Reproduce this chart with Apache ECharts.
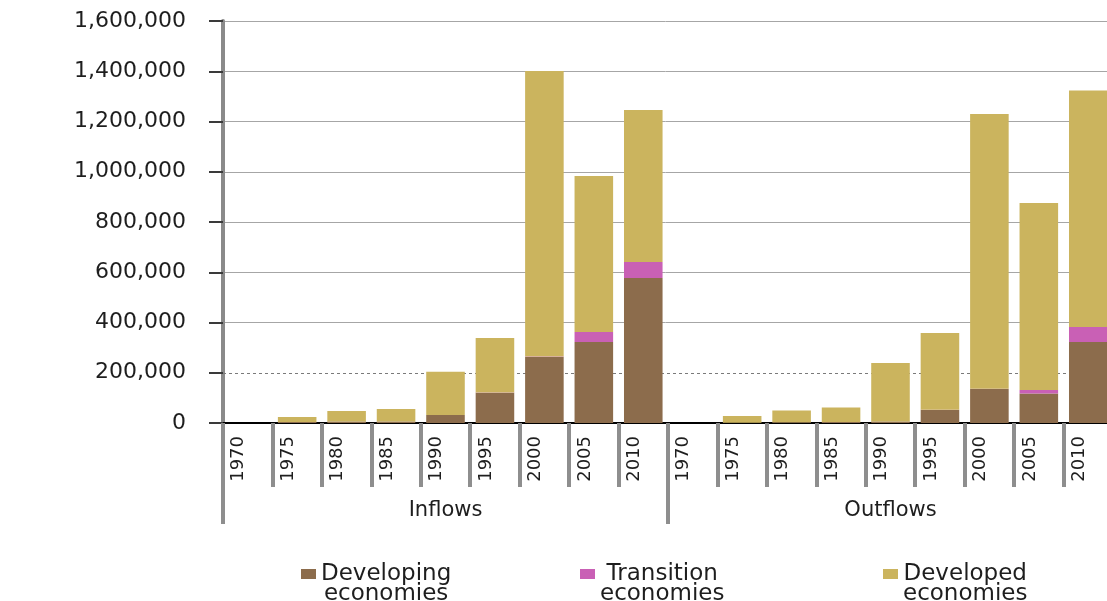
<!DOCTYPE html>
<html>
<head>
<meta charset="utf-8">
<script src="https://cdn.jsdelivr.net/npm/echarts@6/dist/echarts.min.js"></script>
<style>
  html, body { margin: 0; padding: 0; background: #ffffff; overflow: hidden; }
  #chart { width: 1107px; height: 601px; }
</style>
</head>
<body>
<div id="chart"></div>
<script>
// FDI flows (US$ millions) by group of economies, five-year steps
const years = ['1970', '1975', '1980', '1985', '1990', '1995', '2000', '2005', '2010'];
const flowGroups = ['Inflows', 'Outflows'];
const categories = years.concat(years);

const developingIn  = [0, 4000, 6000, 6000, 32000, 120000, 263000, 322000, 577000];
const transitionIn  = [0, 0, 0, 0, 100, 1000, 1500, 40000, 64000];
const developedIn   = [0, 20000, 42000, 50000, 172000, 217000, 1136500, 621000, 605000];

const developingOut = [0, 1000, 3000, 4000, 6000, 52000, 135000, 117000, 322000];
const transitionOut = [0, 0, 0, 0, 0, 500, 1000, 14000, 60000];
const developedOut  = [0, 27000, 47000, 58000, 233000, 306000, 1094000, 745000, 941000];

const seriesNames = ['Developing economies', 'Transition economies', 'Developed economies'];
const seriesColors = ['#8c6c4c', '#c960b5', '#cbb45e'];

const yMin = 0, yMax = 1600000, yStep = 200000;

const FONT = 'DejaVu Sans';
const TEXT = '#1e1e1e';

const chart = echarts.init(document.getElementById('chart'));

const seriesData = [
  developingIn.concat(developingOut),
  transitionIn.concat(transitionOut),
  developedIn.concat(developedOut)
];

// gridline colours cycle per tick from 0; the 200,000 line is drawn dashed separately
const gridColors = [];
for (let v = yMin; v <= yMax; v += yStep) gridColors.push(v === 200000 ? 'rgba(0,0,0,0)' : '#a6a6a6');

// square marker sitting beside the first line of a two-line legend label
const legendIcon = 'path://M0,0H15V10H0Z M0,30.99H0.01V31H0Z';
const legendLeft = [301, 580, 883];

const option = {
  animation: false,
  backgroundColor: '#ffffff',
  // the plot runs slightly past the right edge of the page
  grid: { left: 223, top: 21, width: 890, height: 402, outerBoundsMode: 'none' },
  xAxis: [
    {
      type: 'category',
      position: 'bottom',
      data: categories,
      axisLine: { show: true, lineStyle: { color: '#000000', width: 2 } },
      axisTick: { show: true, interval: 0, length: 64, lineStyle: { color: '#8e8e8e', width: 4 } },
      axisLabel: {
        interval: 0, rotate: 90, margin: 13, verticalAlign: 'bottom',
        fontFamily: FONT, fontSize: 18, color: TEXT
      },
      splitLine: { show: false }
    },
    {
      type: 'category',
      position: 'bottom',
      data: flowGroups,
      axisLine: { show: false },
      axisTick: { show: true, interval: 0, length: 101, lineStyle: { color: '#8e8e8e', width: 4 } },
      axisLabel: {
        interval: 0, margin: 78, fontFamily: FONT, fontSize: 21, lineHeight: 20, color: TEXT
      },
      splitLine: { show: false }
    }
  ],
  yAxis: {
    type: 'value',
    min: yMin, max: yMax, interval: yStep,
    axisLine: { show: true, lineStyle: { color: '#8a8a8a', width: 4 } },
    axisTick: { show: true, length: 14, lineStyle: { color: '#3a3a3a', width: 2 } },
    axisLabel: {
      margin: 37, fontFamily: FONT, fontSize: 22, color: TEXT,
      formatter: v => v.toLocaleString('en-US')
    },
    splitLine: { show: true, lineStyle: { color: gridColors, width: 1 } }
  },
  legend: seriesNames.map((name, i) => ({
    data: [name],
    left: legendLeft[i], top: 563, padding: 0,
    itemWidth: 15, itemHeight: 31, itemGap: 0,
    icon: legendIcon,
    selectedMode: false,
    formatter: n => n.split(' ').map(w => '{t|' + w + '}').join('\n'),
    textStyle: {
      fontFamily: FONT, fontSize: 23, color: TEXT,
      rich: { t: { align: 'center', fontFamily: FONT, fontSize: 23, lineHeight: 20, color: TEXT } }
    }
  })),
  series: seriesNames.map((name, i) => ({
    name: name,
    type: 'bar',
    stack: 'total',
    xAxisIndex: 0,
    barCategoryGap: '22%',
    itemStyle: { color: seriesColors[i] },
    emphasis: { disabled: true },
    data: seriesData[i],
    markLine: i === 0 ? {
      silent: true, symbol: 'none', z: 1,
      label: { show: false },
      lineStyle: { type: [3, 3], color: '#7a7a7a', width: 1 },
      data: [{ yAxis: 200000 }]
    } : undefined
  }))
};

chart.setOption(option);
</script>
</body>
</html>
